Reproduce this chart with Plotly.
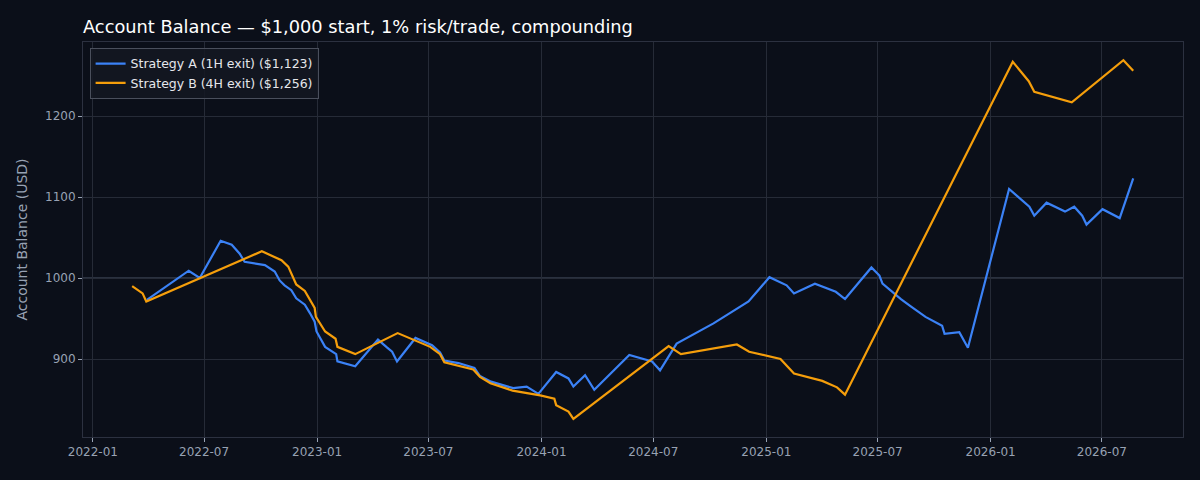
import plotly.graph_objects as go

# Strategy A (1H exit) equity curve
dates_a = [
    "2022-03-30", "2022-06-06", "2022-06-24", "2022-07-28", "2022-08-15", "2022-08-28",
    "2022-09-05", "2022-10-08", "2022-10-24", "2022-11-01", "2022-11-09", "2022-11-20",
    "2022-11-28", "2022-12-12", "2022-12-20", "2022-12-28", "2022-12-31", "2023-01-14",
    "2023-02-01", "2023-02-03", "2023-03-04", "2023-04-10", "2023-04-25", "2023-05-03",
    "2023-05-11", "2023-06-10", "2023-07-07", "2023-07-20", "2023-07-27", "2023-08-19",
    "2023-09-14", "2023-09-23", "2023-10-11", "2023-11-16", "2023-12-08", "2023-12-27",
    "2024-01-25", "2024-02-14", "2024-02-22", "2024-03-12", "2024-03-27", "2024-05-23",
    "2024-06-29", "2024-07-12", "2024-08-08", "2024-10-07", "2024-12-03", "2025-01-06",
    "2025-02-03", "2025-02-15", "2025-03-21", "2025-04-24", "2025-05-09", "2025-06-21",
    "2025-07-04", "2025-07-09", "2025-07-25", "2025-08-08", "2025-08-24", "2025-09-17",
    "2025-10-14", "2025-10-18", "2025-11-11", "2025-11-25", "2026-01-31", "2026-02-19",
    "2026-03-05", "2026-03-13", "2026-04-02", "2026-05-02", "2026-05-17", "2026-05-30",
    "2026-06-06", "2026-07-02", "2026-07-30", "2026-08-21",
]
balance_a = [
    973, 1009, 1000, 1046, 1041, 1030,
    1020, 1016, 1008, 997, 991, 985,
    975, 967, 957, 946, 934, 915,
    906, 897, 891, 924, 914, 909,
    897, 926, 917, 908, 898, 895,
    889, 879, 872, 864, 866, 857,
    884, 876, 866, 880, 862, 905,
    897, 886, 919, 944, 971, 1001,
    991, 981, 993, 983, 974, 1013,
    1003, 993, 983, 974, 965, 952,
    941, 931, 933, 914, 1110, 1098,
    1088, 1077, 1093, 1082, 1088, 1077,
    1066, 1085, 1074, 1123,
]

# Strategy B (4H exit) equity curve
dates_b = [
    "2022-03-06", "2022-03-23", "2022-03-29", "2022-10-03", "2022-11-04", "2022-11-15",
    "2022-11-28", "2022-12-12", "2022-12-28", "2022-12-30", "2023-01-14", "2023-01-31",
    "2023-02-03", "2023-03-04", "2023-05-12", "2023-07-04", "2023-07-20", "2023-07-27",
    "2023-09-12", "2023-09-23", "2023-10-10", "2023-11-15", "2023-12-30", "2024-01-22",
    "2024-01-25", "2024-02-14", "2024-02-22", "2024-07-26", "2024-08-15", "2024-11-14",
    "2024-12-04", "2025-01-24", "2025-02-15", "2025-04-02", "2025-04-26", "2025-05-09",
    "2026-02-06", "2026-03-04", "2026-03-13", "2026-05-13", "2026-08-05", "2026-08-21",
]
balance_b = [
    990, 981, 971, 1033, 1022, 1014,
    992, 984, 963, 952, 934, 925,
    915, 906, 932, 915, 906, 896,
    887, 878, 870, 861, 855, 851,
    843, 835, 826, 916, 906, 918,
    909, 900, 882, 873, 865, 856,
    1267, 1243, 1230, 1217, 1269, 1256,
]

BG = "#0b0f19"
GRID = "#262b37"
TICK = "#98a2b3"

fig = go.Figure()

fig.add_trace(go.Scatter(
    x=dates_a, y=balance_a, mode="lines",
    name=f"Strategy A (1H exit) (${balance_a[-1]:,})",
    line=dict(color="#3b82f6", width=2.2),
))
fig.add_trace(go.Scatter(
    x=dates_b, y=balance_b, mode="lines",
    name=f"Strategy B (4H exit) (${balance_b[-1]:,})",
    line=dict(color="#f59e0b", width=2.2),
))

# starting balance reference
fig.add_hline(y=1000, line=dict(color="#4b5567", width=1), layer="below")

fig.update_layout(
    width=1200, height=480,
    paper_bgcolor=BG, plot_bgcolor=BG,
    margin=dict(l=83, r=17, t=42, b=43),
    font=dict(family="DejaVu Sans", color=TICK, size=12),
    title=dict(
        text="Account Balance — $1,000 start, 1% risk/trade, compounding",
        x=83 / 1200, xanchor="left", y=1 - 27 / 480, yanchor="middle",
        font=dict(size=17.8, color="#ffffff"),
    ),
    legend=dict(
        x=0.006, y=0.985, xanchor="left", yanchor="top",
        bgcolor="rgba(20,24,34,0.85)", bordercolor="#4a4f5c", borderwidth=1,
        font=dict(size=12.5, color="#e5e7eb"),
        tracegroupgap=2,
    ),
    showlegend=True,
)

fig.update_xaxes(
    type="date", range=["2021-12-16", "2026-11-10"],
    dtick="M6", tick0="2022-01-01", tickformat="%Y-%m",
    showgrid=True, gridcolor=GRID, gridwidth=1,
    ticks="outside", ticklen=4, tickcolor=TICK,
    showline=True, linecolor="#2c3140", mirror=True, zeroline=False,
    tickfont=dict(size=12, color=TICK),
)
fig.update_yaxes(
    range=[803.7, 1291.4], dtick=100, tick0=900,
    showgrid=True, gridcolor=GRID, gridwidth=1,
    ticks="outside", ticklen=4, tickcolor=TICK,
    showline=True, linecolor="#2c3140", mirror=True, zeroline=False,
    title=dict(text="Account Balance (USD)", font=dict(size=14, color=TICK), standoff=14),
    tickfont=dict(size=12, color=TICK),
)

fig.write_html(
    "out.html",
    config={"displayModeBar": False},
    post_script="document.body.style.margin='0';",
)
